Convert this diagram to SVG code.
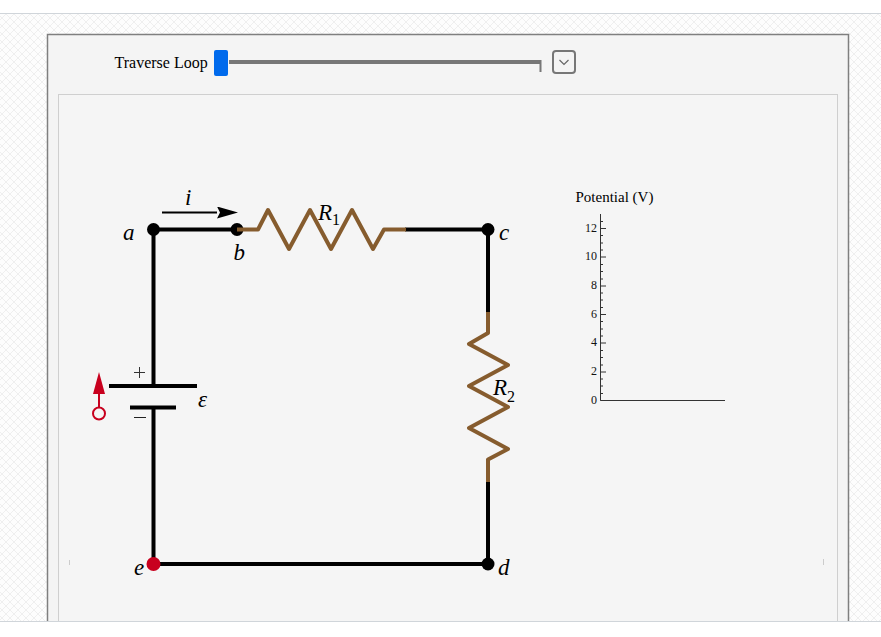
<svg xmlns="http://www.w3.org/2000/svg" width="881" height="637" viewBox="0 0 881 637">
<style>
text{font-family:"Liberation Serif","Times New Roman",serif;fill:#000}
.lbl{font-style:italic;font-size:23px}
.sub{font-size:16px}
.tick{font-size:12px;text-anchor:end;fill:#111}
.wire{fill:none;stroke:#000;stroke-width:4}
.res{fill:none;stroke:#865c2e;stroke-width:4;stroke-linejoin:round}
.axis{stroke:#333;stroke-width:1;fill:none}
</style>
<defs>
<pattern id="weave" width="8" height="8" patternUnits="userSpaceOnUse">
<rect width="8" height="8" fill="#fdfdfd"/>
<path d="M0 4L4 0M4 8L8 4M0 0L4 4M4 4L8 8" stroke="#efefef" stroke-width="1" fill="none"/>
</pattern>
<marker id="ah" markerUnits="userSpaceOnUse" markerWidth="22" markerHeight="14" refX="0" refY="6" orient="auto"><path d="M0 0L21 6L0 12L3 6Z" fill="#000"/></marker>
</defs>
<rect width="881" height="637" fill="#fff"/>
<rect x="0" y="14" width="881" height="607" fill="url(#weave)"/>
<rect x="0" y="13" width="881" height="1" fill="#d0d5da"/>
<rect x="47.500" y="34.500" width="801" height="600" fill="#f4f4f4" stroke="#7f7f7f" stroke-width="1.500"/>
<rect x="58.500" y="94.500" width="779" height="540" fill="#f5f5f5" stroke="#cfcfcf"/>
<rect x="69" y="560" width="1" height="5" fill="#ccc"/>
<rect x="823" y="559" width="1" height="6" fill="#ccc"/>
<rect x="0" y="621" width="881" height="16" fill="#fff"/>
<rect x="0" y="621" width="881" height="1" fill="#d0d5da"/>

<g id="slider">
<text x="114.500" y="68" font-size="16">Traverse Loop</text>
<rect x="229" y="60" width="312" height="4" fill="#777"/>
<rect x="539.500" y="60" width="2" height="12" fill="#777"/>
<rect x="214" y="50" width="14" height="26" rx="2" fill="#006aec"/>
</g>
<g id="dropdown">
<rect x="553" y="51" width="22" height="22" rx="3" fill="#f4f4f4" stroke="#777" stroke-width="2"/>
<path d="M559.500 60L564 64.500L568.500 60" fill="none" stroke="#666" stroke-width="1.200"/>
</g>

<g id="connectors">
<path class="wire" d="M153.500 386V229.500H237"/>
<path class="wire" d="M405 229.500H488V312"/>
<path class="wire" d="M488 482V564H153.500V407"/>
<path d="M162 212.500H217" fill="none" stroke="#000" stroke-width="2" marker-end="url(#ah)"/>
</g>

<g id="node-a"><circle cx="153.500" cy="229.500" r="6.500"/><text class="lbl" x="123" y="240">a</text></g>
<g id="node-b"><circle cx="237" cy="229.500" r="6.500"/><text class="lbl" x="233.500" y="260">b</text></g>
<g id="node-c"><circle cx="488" cy="229.500" r="6.500"/><text class="lbl" x="499" y="240">c</text></g>
<g id="node-d"><circle cx="488" cy="564" r="6.500"/><text class="lbl" x="498" y="575">d</text></g>
<g id="node-e"><circle cx="153.500" cy="564" r="7"  fill="#c8001e"/><text class="lbl" x="134" y="575">e</text></g>
<g id="label-i"><text class="lbl" x="185" y="205">i</text></g>

<g id="resistor-1">
<path class="res" d="M237 229.500H258L268 210L289 249L310 210L331 249L352 210L373 249L384 229.500H406"/>
<text class="lbl" x="318" y="220">R</text><text class="sub" x="332" y="225">1</text>
</g>
<g id="resistor-2">
<path class="res" d="M488 312V333L469 344L508 365L469 386L508 407L469 428L508 449L488 459.500V482"/>
<text class="lbl" x="493" y="395">R</text><text class="sub" x="507" y="402">2</text>
</g>
<g id="battery">
<path d="M109 386H197M130 407.500H176" stroke="#000" stroke-width="4" fill="none"/>
<path d="M134 372.500H145M139.500 367V378" stroke="#333" stroke-width="1" fill="none"/>
<path d="M134 417.500H146" stroke="#222" stroke-width="1" fill="none"/>
<text class="lbl" x="198" y="407">ε</text>
</g>
<g id="traveler">
<path d="M99 408V390" stroke="#c8001e" stroke-width="2" fill="none"/>
<path d="M99 372L105 394H93Z" fill="#c8001e"/>
<circle cx="99" cy="413.500" r="6" fill="none" stroke="#c8001e" stroke-width="2"/>
</g>

<g id="plot">
<text x="575.500" y="202" font-size="15">Potential (V)</text>
<path class="axis" d="M600.500 214V400.500H725"/>
<path class="axis" d="M600.500 400.500H606M600.500 372H606M600.500 343H606M600.500 314.500H606M600.500 286H606M600.500 257H606M600.500 228.500H606"/>
<path class="axis" stroke="#555" d="M600.500 393.500H603M600.500 386H603M600.500 379H603M600.500 365H603M600.500 357.500H603M600.500 350.500H603M600.500 336H603M600.500 329H603M600.500 321.500H603M600.500 307.500H603M600.500 300H603M600.500 293H603M600.500 279H603M600.500 271.500H603M600.500 264.500H603M600.500 250H603M600.500 243H603M600.500 235.500H603M600.500 221.500H603"/>
<text class="tick" x="597" y="404">0</text>
<text class="tick" x="597" y="375">2</text>
<text class="tick" x="597" y="346">4</text>
<text class="tick" x="597" y="318">6</text>
<text class="tick" x="597" y="289">8</text>
<text class="tick" x="597" y="260">10</text>
<text class="tick" x="597" y="232">12</text>
</g>
</svg>
